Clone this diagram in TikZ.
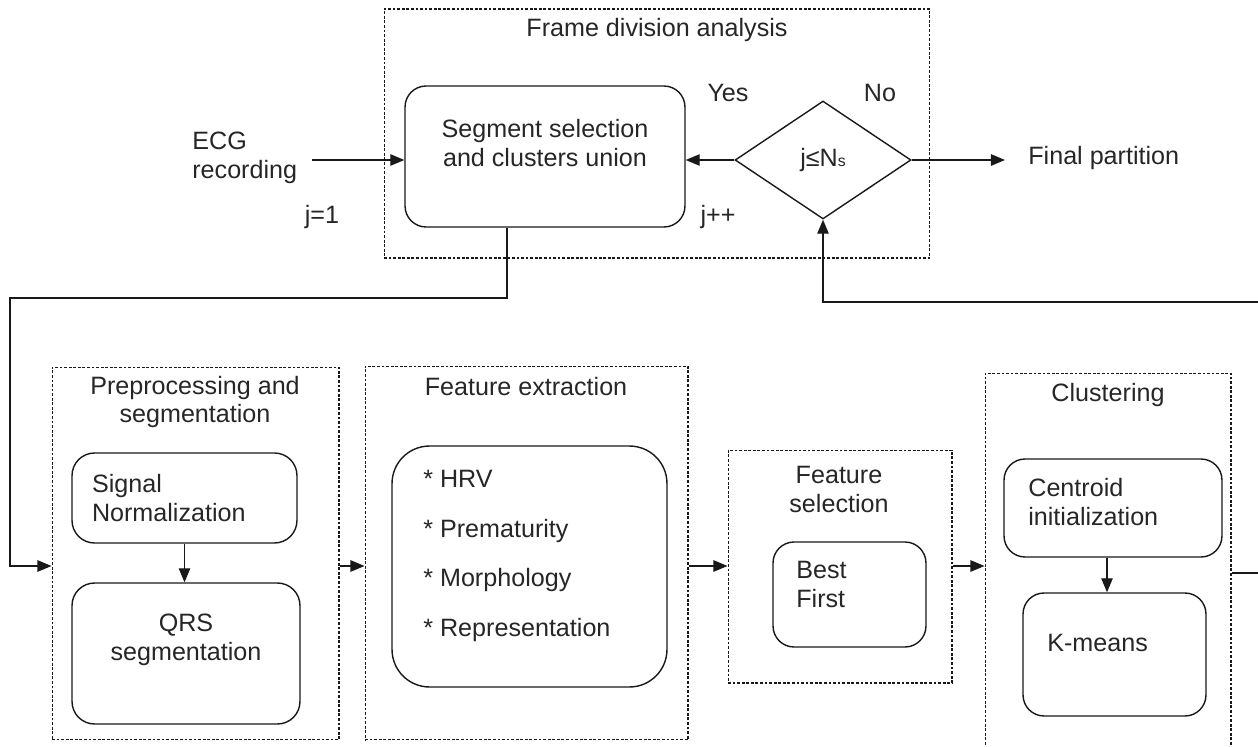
\documentclass[tikz,border=0pt]{standalone}
\usepackage{fontspec}
\setmainfont{Liberation Sans}
\usetikzlibrary{arrows.meta,positioning,shapes.geometric,calc}
\tikzset{
    >={Triangle[length=8pt,width=6.5pt]},
    block/.style={
        rectangle,
        rounded corners=0.42cm,
        draw=black!90, line width=0.8pt,
        inner sep=0pt
    },
    group/.style={
        rectangle,
        draw=black!90, line width=0.6pt,
        dash pattern=on 1.6pt off 1pt,
        inner sep=0pt
    },
    decision/.style={
        diamond,
        aspect=1.5,
        draw=black!90, line width=0.8pt,
        inner sep=0pt
    },
    line/.style={draw=black!90, line width=0.8pt, ->},
    txt/.style={font=\fontsize{14.3}{16.5}\selectfont, text=black!85, inner sep=0pt}
}

\begin{document}
\begin{tikzpicture}[x=0.02cm, y=-0.02cm, every node/.style={txt}]
    \useasboundingbox (0,0) rectangle (1258,747);

    % frame division analysis
    \node[group, minimum width=10.92cm, minimum height=4.98cm] (frame) at (657,133.5) {};
    \node (frame title) at (657,30) {Frame division analysis};
    \node[block, minimum width=5.6cm, minimum height=2.82cm] (seg) at (545,156.5) {};
    \node[align=center] (seg text) at (545,143) {Segment selection\\and clusters union};
    \node[decision, minimum width=3.52cm, minimum height=2.36cm] (dec) at (823,160)
        {j≤N{\fontsize{9}{9}\selectfont s}};

    \node[align=left, anchor=west] (ecg) at (192,158) {ECG\\recording};
    \coordinate (ecg in) at (312,160);
    \node (j1) at (322,217) {j=1};
    \node (yes) at (728,93) {Yes};
    \node (no) at (880,93) {No};
    \node (jpp) at (718,217) {j++};
    \coordinate (final end) at (1005,160);
    \node[anchor=west] (final) at (1028,158) {Final partition};

    \draw[line] (ecg in) -- (ecg in -| seg.west);
    \draw[line] (dec.west) -- (dec.west -| seg.east);
    \draw[line] (dec.east) -- (final end);

    % preprocessing and segmentation
    \node[group, minimum width=5.74cm, minimum height=7.46cm] (pre) at (195.5,553.5) {};
    \node[align=center] (pre title) at (195,402) {Preprocessing and\\segmentation};
    \node[block, rounded corners=0.45cm, minimum width=4.5cm, minimum height=1.8cm,
          text width=3.7cm, align=left] (sig) at (184.5,498) {Signal\\Normalization};
    \node[block, rounded corners=0.45cm, minimum width=4.56cm, minimum height=2.82cm] (qrs) at (186,653.5) {};
    \node[align=center] (qrs text) at (186,640) {QRS\\segmentation};
    \draw[line] (sig.south) -- (sig.south |- qrs.north);

    % feature extraction
    \node[group, minimum width=6.46cm, minimum height=7.48cm] (fex) at (526.5,553) {};
    \node (fex title) at (526,387) {Feature extraction};
    \node[block, rounded corners=0.75cm, minimum width=5.5cm, minimum height=4.82cm] (feat) at (529.5,566.5) {};
    \node[align=left, anchor=west, font=\fontsize{14.3}{28.4}\selectfont] (feat list) at (423,556)
        {* HRV\\* Prematurity\\* Morphology\\* Representation};

    % feature selection
    \node[group, minimum width=4.48cm, minimum height=4.66cm] (fsel) at (840,566.5) {};
    \node[align=center] (fsel title) at (839,489) {Feature\\selection};
    \node[block, minimum width=3.06cm, minimum height=2.1cm] (best) at (849.5,594.5) {};
    \node[align=left, anchor=west] (best text) at (796,584) {Best\\First};

    % clustering
    \node[group, minimum width=4.92cm, minimum height=8cm] (clu) at (1108,573) {};
    \node (clu title) at (1108,395) {Clustering};
    \node[block, minimum width=4.36cm, minimum height=1.96cm] (cen) at (1113,508) {};
    \node[align=left, anchor=west] (cen text) at (1028,502) {Centroid\\initialization};
    \node[block, minimum width=3.66cm, minimum height=2.46cm] (km) at (1114.5,654.5) {};
    \node[anchor=west] (km text) at (1047,643) {K-means};
    \draw[line] (cen.south -| 1107,0) -- (km.north -| 1107,0);

    % links between stages
    \coordinate (row) at (0,566);
    \coordinate (loop left) at (10,298);
    \coordinate (loop right) at (1262,302);
    \draw[line] ($(seg.south)+(-38,0)$) |- (loop left) |- (row -| pre.west);
    \draw[line] (pre.east |- row) -- (row -| fex.west);
    \draw[line] (fex.east |- row) -- (row -| fsel.west);
    \draw[line] (fsel.east |- row) -- (row -| clu.west);
    \draw[line] (clu.east) -- (clu.east -| loop right) -- (loop right) -| (dec.south);
\end{tikzpicture}
\end{document}
